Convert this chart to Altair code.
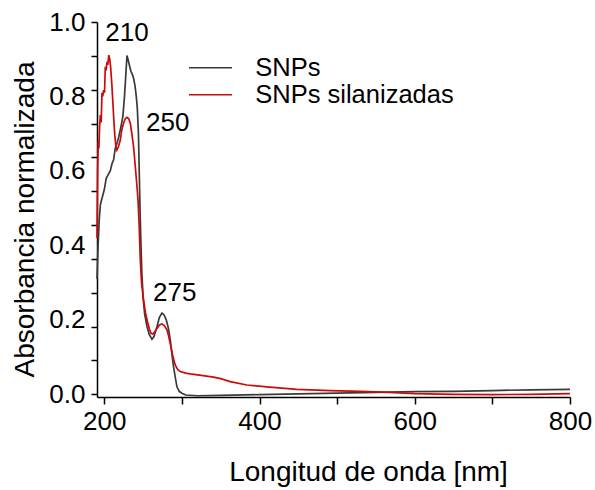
import altair as alt
import pandas as pd

# SNPs (black)
snp_nm = [190.6, 192.0, 193.5, 195.0, 197.5, 200.0, 202.5, 205.0, 207.7, 210.0, 212.0, 214.0, 216.4,
          218.5, 220.6, 222.5, 224.1, 226.0, 227.5, 229.2, 230.5, 232.2, 234.4, 236.0, 237.7, 239.5,
          241.2, 242.5, 244.0, 245.0, 246.0, 247.0, 248.3, 250.0, 252.0, 255.0, 258.0, 261.4, 264.0,
          267.9, 271.0, 274.3, 277.0, 279.8, 282.5, 285.0, 287.0, 289.2, 291.5, 293.6, 296.5, 300.0,
          305, 320, 350, 400, 450, 500, 550, 600, 650, 700, 750, 800]
snp_val = [0.31, 0.40, 0.47, 0.51, 0.53, 0.55, 0.58, 0.59, 0.60, 0.62, 0.63, 0.66, 0.675,
           0.69, 0.71, 0.73, 0.75, 0.80, 0.85, 0.91, 0.90, 0.885, 0.867, 0.860, 0.849, 0.83,
           0.80, 0.77, 0.70, 0.60, 0.50, 0.42, 0.33, 0.26, 0.215, 0.182, 0.16, 0.148, 0.155,
           0.182, 0.207, 0.218, 0.213, 0.200, 0.178, 0.146, 0.11, 0.074, 0.045, 0.020, 0.008, 0.003,
           -0.002, -0.004, -0.003, -0.001, 0.001, 0.003, 0.005, 0.007, 0.008, 0.010, 0.012, 0.013]

# SNPs silanizadas (red)
sil_nm = [190.6, 191.4, 192.2, 193.0, 194.0, 194.9, 196.0, 197.0, 198.0, 199.1, 200.3, 201.3, 202.3,
          203.5, 204.5, 205.8, 207.0, 208.1, 209.5, 210.9, 212.2, 213.5, 215.0, 216.2, 218.0, 220.6,
          222.5, 224.8, 227.0, 229.2, 231.5, 233.5, 235.5, 237.7, 240.0, 242.1, 243.5, 245.0, 246.4,
          248.0, 250.6, 253.0, 255.0, 258.0, 260.1, 262.5, 265.0, 267.9, 271.0, 274.3, 277.5, 280.7,
          283.0, 285.8, 288.5, 291.4, 294.5, 297.9, 305, 310.7, 325, 340.7, 350, 362.2, 383.7, 409.4,
          448.1, 491, 530, 560, 600, 650, 700, 750, 800]
sil_val = [0.42, 0.60, 0.68, 0.66, 0.72, 0.75, 0.73, 0.81, 0.80, 0.817, 0.81, 0.88, 0.87,
           0.893, 0.885, 0.911, 0.90, 0.88, 0.84, 0.79, 0.74, 0.696, 0.665, 0.656, 0.664, 0.683,
           0.71, 0.728, 0.740, 0.744, 0.74, 0.728, 0.70, 0.665, 0.61, 0.558, 0.52, 0.45, 0.36,
           0.30, 0.253, 0.22, 0.200, 0.176, 0.164, 0.162, 0.168, 0.177, 0.186, 0.189, 0.184, 0.173,
           0.155, 0.128, 0.10, 0.079, 0.067, 0.061, 0.057, 0.055, 0.051, 0.046, 0.042, 0.034, 0.025, 0.020,
           0.013, 0.010, 0.008, 0.006, 0.002, 0.000, -0.001, 0.000, 0.002]

series_names = ["SNPs", "SNPs silanizadas"]
series_colors = ["#3a3a3a", "#cc0a0a"]

ann_labels = ["210", "250", "275"]
ann_nm = [229.2, 281.7, 290.7]
ann_val = [0.971, 0.728, 0.272]

x_ticks = [200, 300, 400, 500, 600, 700, 800]
y_labels = [0.0, 0.2, 0.4, 0.6, 0.8, 1.0]
y_minor = [i / 11 for i in range(12)]

df = pd.concat([
    pd.DataFrame({"nm": snp_nm, "val": snp_val, "serie": series_names[0]}),
    pd.DataFrame({"nm": sil_nm, "val": sil_val, "serie": series_names[1]}),
])
df_ann = pd.DataFrame({"nm": ann_nm, "val": ann_val, "lab": ann_labels})

FONT = "Liberation Sans"
xscale = alt.Scale(domain=[190.6, 800], nice=False, zero=False)
yscale = alt.Scale(domain=[-0.0073, 1.0], nice=False, zero=False)

lines = alt.Chart(df).mark_line(strokeWidth=1.7).encode(
    x=alt.X("nm:Q", scale=xscale, axis=alt.Axis(
        values=x_ticks, labelExpr="datum.value % 200 == 0 ? datum.label : ''",
        title="Longitud de onda [nm]", titleX=271, titleY=75, titleBaseline="middle",
        titleAlign="center", titleFontSize=28, titleFontWeight="normal",
        labelFontSize=26, tickSize=7, labelPadding=4, labelFlush=False,
        grid=False, domainColor="black", tickColor="black", domainWidth=1.5, tickWidth=1.5,
        labelColor="black", titleColor="black")),
    y=alt.Y("val:Q", scale=yscale, axis=alt.Axis(
        values=y_labels, format=".1f", ticks=False, labelPadding=12,
        title="Absorbancia normalizada", titleX=-72, titleY=197, titleAngle=-90,
        titleBaseline="middle", titleAlign="center", titleFontSize=28, titleFontWeight="normal",
        labelFontSize=26, grid=False, domainColor="black", domainWidth=1.5,
        labelColor="black", titleColor="black")),
    color=alt.Color("serie:N", scale=alt.Scale(domain=series_names, range=series_colors),
                    legend=alt.Legend(title=None, orient="none", legendX=100.75, legendY=33,
                                      symbolType="M-2,0L2,0", symbolSize=462, symbolStrokeWidth=1.7,
                                      labelFontSize=25.5, labelOffset=32, rowPadding=-2,
                                      labelLimit=0, labelColor="black", padding=0)),
)

ann = alt.Chart(df_ann).mark_text(fontSize=26, font=FONT, color="black", baseline="middle").encode(
    x=alt.X("nm:Q", scale=xscale),
    y=alt.Y("val:Q", scale=yscale, axis=alt.Axis(
        values=y_minor, labels=False, domain=False, orient="left", tickSize=6, tickWidth=1.5,
        tickColor="black", grid=False, title="")),
    text="lab:N",
)

chart = alt.layer(lines, ann).resolve_axis(y="independent").properties(
    width=473, height=375,
    autosize=alt.AutoSizeParams(type="none"),
    padding={"left": 97, "top": 22, "right": 25, "bottom": 93},
).configure(font=FONT).configure_view(strokeWidth=0).configure_axis(labelFont=FONT, titleFont=FONT)

chart.save("out.html", embed_options={"renderer": "svg", "actions": False})
